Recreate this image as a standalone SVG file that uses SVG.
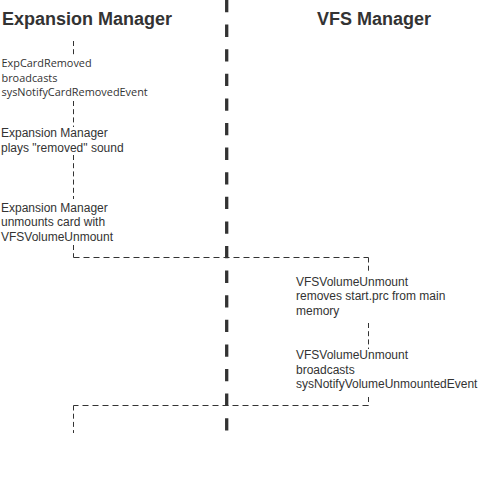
<svg xmlns="http://www.w3.org/2000/svg" width="480" height="498" viewBox="0 0 480 498">
<style>
.title{font-family:"Liberation Sans",Arial,sans-serif;font-weight:bold;font-size:18px;fill:#333}
.t{font-family:"Liberation Sans",Arial,sans-serif;font-size:12px;fill:#333}
.t1{font-family:"Open Sans","Noto Sans",sans-serif;font-size:10.9px;fill:#333}
.life{stroke:#333;stroke-width:1;fill:none;stroke-dasharray:5 3.2}
.msg{stroke:#333;stroke-width:1;fill:none;stroke-dasharray:6 4}
.divider{stroke:#333;stroke-width:3.3;fill:none;stroke-dasharray:12.3 12.3}
</style>
<rect width="480" height="498" fill="#fff"/>
<g id="connectors">
<line class="divider" x1="226.7" y1="0" x2="226.7" y2="430.5"/>
<line class="life" x1="73.5" y1="41" x2="73.5" y2="57"/>
<line class="life" x1="73.5" y1="101" x2="73.5" y2="127"/>
<line class="life" x1="73.5" y1="155" x2="73.5" y2="199"/>
<line class="life" x1="73.5" y1="245" x2="73.5" y2="257.5"/>
<line class="msg" x1="73.5" y1="257.5" x2="368.5" y2="257.5"/>
<line class="life" x1="368.5" y1="257.5" x2="368.5" y2="272"/>
<line class="life" x1="368.5" y1="323" x2="368.5" y2="349"/>
<line class="life" x1="368.5" y1="397" x2="368.5" y2="405.5"/>
<line class="msg" x1="368.5" y1="405.5" x2="73.5" y2="405.5"/>
<line class="life" x1="73.5" y1="405.5" x2="73.5" y2="433"/>
</g>
<g id="title-expansion-manager"><text class="title" x="2" y="25">Expansion Manager</text></g>
<g id="title-vfs-manager"><text class="title" x="317" y="25">VFS Manager</text></g>
<g id="step-card-removed">
<text class="t1" x="1.5" y="67">ExpCardRemoved</text>
<text class="t1" x="1.5" y="81.5">broadcasts</text>
<text class="t1" x="1.5" y="96">sysNotifyCardRemovedEvent</text>
</g>
<g id="step-play-sound">
<text class="t" x="1" y="137">Expansion Manager</text>
<text class="t" x="1" y="152">plays "removed" sound</text>
</g>
<g id="step-unmount-card">
<text class="t" x="1" y="211.5">Expansion Manager</text>
<text class="t" x="1" y="226">unmounts card with</text>
<text class="t" x="1" y="240.5">VFSVolumeUnmount</text>
</g>
<g id="step-remove-start">
<text class="t" x="296" y="285.5">VFSVolumeUnmount</text>
<text class="t" x="296" y="300">removes start.prc from main</text>
<text class="t" x="296" y="314.5">memory</text>
</g>
<g id="step-broadcast-unmounted">
<text class="t" x="296" y="359">VFSVolumeUnmount</text>
<text class="t" x="296" y="373.5">broadcasts</text>
<text class="t" x="296" y="388">sysNotifyVolumeUnmountedEvent</text>
</g>
</svg>
